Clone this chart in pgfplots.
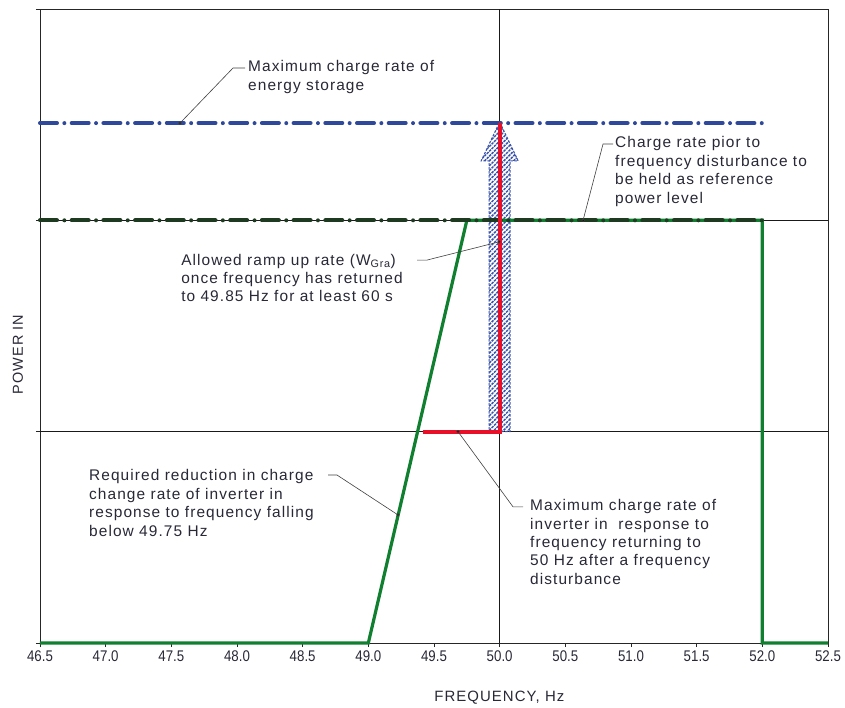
\documentclass[border=0pt]{standalone}
\usepackage{fontspec}
\setmainfont{Liberation Sans}
\newfontfamily\annfont[LetterSpace=7]{Liberation Sans}
\newfontfamily\tickfont[FakeStretch=0.86]{Liberation Sans}
\usepackage{pgfplots}
\pgfplotsset{compat=1.18}
\usetikzlibrary{patterns.meta}
\definecolor{bluedash}{RGB}{46,72,155}
\definecolor{hatchblue}{RGB}{60,85,170}
\definecolor{darkgreen}{RGB}{30,58,32}
\definecolor{mygreen}{RGB}{16,128,48}
\definecolor{myred}{RGB}{232,16,40}
\definecolor{txt}{RGB}{40,40,55}
\begin{document}
\begin{tikzpicture}
\path[use as bounding box] (-40bp,-65bp) rectangle (805bp,643bp);
\begin{axis}[
  at={(0,0)}, anchor=south west,
  scale only axis, width=788bp, height=634bp,
  xmin=46.5, xmax=52.5, ymin=0, ymax=3,
  xtick={46.5,47,47.5,48,48.5,49,49.5,50,50.5,51,51.5,52,52.5},
  xticklabels={46.5,47.0,47.5,48.0,48.5,49.0,49.5,50.0,50.5,51.0,51.5,52.0,52.5},
  ytick={0,1,2,3}, yticklabels={},
  xtick pos=lower, ytick pos=left,
  tick align=outside, major tick length=4bp,
  axis line style={line width=0.9bp, black!85},
  tick style={line width=0.8bp, black!85},
  xticklabel style={font=\tickfont\fontsize{15.5}{15.5}\selectfont, text=txt},
  xlabel={FREQUENCY, Hz},
  ylabel={POWER IN},
  x label style={at={(axis description cs:0.583,-0.087)}, anchor=center, font=\annfont\fontsize{15}{15}\selectfont, text=txt},
  y label style={at={(axis description cs:-0.028,0.455)}, anchor=center, rotate=0, font=\annfont\fontsize{14.5}{14.5}\selectfont, text=txt},
  clip=false,
]
% thin reference lines
\addplot[black!90, line width=0.8bp] coordinates {(46.5,1) (52.5,1)};
\addplot[black!90, line width=0.8bp] coordinates {(46.5,2) (52.5,2)};
\addplot[black!90, line width=0.8bp] coordinates {(50,0) (50,3)};
% blue dash-dot: maximum charge rate of energy storage
\addplot[bluedash, line width=4bp, line cap=round, dash pattern=on 17bp off 7.35bp on 0bp off 7.35bp] coordinates {(46.5,2.46) (52.0,2.46)};
% hatched arrow
\addplot[draw=hatchblue, dash pattern=on 2.5bp off 1.5bp, line width=1.1bp, pattern={Lines[angle=45,distance=3.4bp,line width=1.5bp]}, pattern color=hatchblue] coordinates {(49.92,1) (50.08,1) (50.08,2.281) (50.141,2.281) (50.0,2.465) (49.859,2.281) (49.92,2.281) (49.92,1)};
% green solid
\addplot[mygreen, line width=3.2bp] coordinates {(46.5,0) (49.0,0) (49.75,2) (52.0,2) (52.0,0) (52.5,0)};
% dark green dash-dot
\addplot[darkgreen, line width=4bp, line cap=round, dash pattern=on 17bp off 7.35bp on 0bp off 7.35bp] coordinates {(46.5,2) (52.0,2)};
% red
\addplot[myred, line width=4.2bp] coordinates {(49.42,1) (50.0,1) (50.0,2.46)};
% leader lines
\addplot[black!75, line width=0.6bp, mark=*, mark size=1.3bp, mark indices={1}, mark options={fill=black}] coordinates {(47.566,2.46) (47.970,2.721) (48.061,2.721)};
\addplot[black!75, line width=0.6bp, mark=*, mark size=1.3bp, mark indices={1}, mark options={fill=black}] coordinates {(50.635,2.0) (50.787,2.361) (50.863,2.361)};
\addplot[black!75, line width=0.6bp, mark=*, mark size=1.3bp, mark indices={3}, mark options={fill=black}] coordinates {(49.371,1.812) (49.447,1.812) (49.995,1.898)};
\addplot[black!75, line width=0.6bp, mark=*, mark size=1.3bp, mark indices={3}, mark options={fill=black}] coordinates {(48.693,0.795) (48.761,0.795) (49.226,0.606)};
\addplot[black!75, line width=0.6bp, mark=*, mark size=1.3bp, mark indices={1}, mark options={fill=black}] coordinates {(49.683,1.0) (50.102,0.644) (50.178,0.644)};
% annotation texts
\tikzset{ann/.style={anchor=west, align=left, inner sep=0pt, text=txt, font=\annfont\fontsize{15.5}{18.5}\selectfont}}
\node[ann] at (axis cs:48.084,2.678) {Maximum charge rate of\\energy storage};
\node[ann] at (axis cs:50.878,2.231) {Charge rate pior to\\frequency disturbance to\\be held as reference\\power level};
\node[ann] at (axis cs:47.574,1.727) {Allowed ramp up rate (W\textsubscript{Gra})\\once frequency has returned\\to 49.85 Hz for at least 60 s};
\node[ann] at (axis cs:46.873,0.662) {Required reduction in charge\\change rate of inverter in\\response to frequency falling\\below 49.75 Hz};
\node[ann] at (axis cs:50.231,0.478) {Maximum charge rate of\\inverter in\ \ response to\\frequency returning to\\50 Hz after a frequency\\disturbance};
\end{axis}
\end{tikzpicture}
\end{document}
